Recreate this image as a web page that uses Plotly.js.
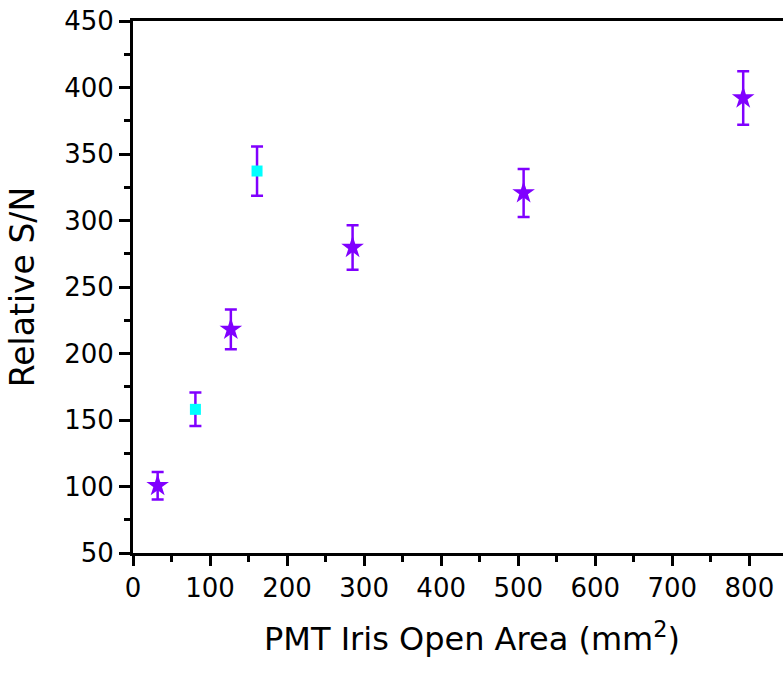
<!DOCTYPE html>
<html>
<head>
<meta charset="utf-8">
<script src="https://cdn.plot.ly/plotly-3.0.1.min.js"></script>
<style>
  html, body { margin: 0; padding: 0; overflow: hidden; background: #fff; }
  #chart { width: 811px; height: 673px; }
</style>
</head>
<body>
<div id="chart"></div>
<script>
// Star series (purple)
const starX = [32, 127, 285, 507, 792];
const starY = [100.6, 218.1, 279.7, 320.7, 392.1];
const starErr = [10.3, 14.9, 16.7, 18.1, 20.1];

// Square series (cyan)
const squareX = [81, 161];
const squareY = [158, 337.2];
const squareErr = [12.6, 18.5];

const xTitle = 'PMT Iris Open Area (mm<sup>2</sup>)';
const yTitle = 'Relative S/N';

const purple = '#8000FF';
const cyan = '#00FFFF';
const fontFamily = '"DejaVu Sans", "Liberation Sans", Arial, sans-serif';

const traces = [
  {
    type: 'scatter', mode: 'markers',
    x: starX, y: starY,
    error_y: { type: 'data', array: starErr, visible: true, color: purple, thickness: 2.5, width: 6 },
    marker: { symbol: 'star', size: 17, color: purple, line: { width: 0 } },
    showlegend: false, hoverinfo: 'x+y'
  },
  {
    type: 'scatter', mode: 'markers',
    x: squareX, y: squareY,
    error_y: { type: 'data', array: squareErr, visible: true, color: purple, thickness: 2.5, width: 6 },
    marker: { symbol: 'square', size: 11, color: cyan, line: { width: 0 } },
    showlegend: false, hoverinfo: 'x+y'
  }
];

const layout = {
  width: 811, height: 673,
  margin: { l: 133, r: 0, t: 21, b: 120 },
  paper_bgcolor: '#fff', plot_bgcolor: '#fff',
  font: { family: fontFamily, color: '#000', size: 26 },
  showlegend: false,
  xaxis: {
    range: [0, 880],
    dtick: 100, tick0: 0,
    ticks: 'outside', ticklen: 10, tickwidth: 3, tickcolor: '#000',
    minor: { dtick: 50, ticks: 'outside', ticklen: 6, tickwidth: 3, tickcolor: '#000' },
    showline: true, linewidth: 3, linecolor: '#000', mirror: true,
    showgrid: false, zeroline: false,
    tickfont: { family: fontFamily, size: 26, color: '#000' },
    title: { text: xTitle, font: { family: fontFamily, size: 32, color: '#000' }, standoff: 26 }
  },
  yaxis: {
    range: [50, 450],
    dtick: 50, tick0: 0,
    ticks: 'outside', ticklen: 11, tickwidth: 3, tickcolor: '#000',
    minor: { dtick: 25, ticks: 'outside', ticklen: 6, tickwidth: 3, tickcolor: '#000' },
    showline: true, linewidth: 3, linecolor: '#000', mirror: false,
    showgrid: false, zeroline: false,
    tickfont: { family: fontFamily, size: 26, color: '#000' },
    title: { text: yTitle, font: { family: fontFamily, size: 33, color: '#000' }, standoff: 20 }
  }
};

Plotly.newPlot('chart', traces, layout, { displayModeBar: false, staticPlot: true });
</script>
</body>
</html>
